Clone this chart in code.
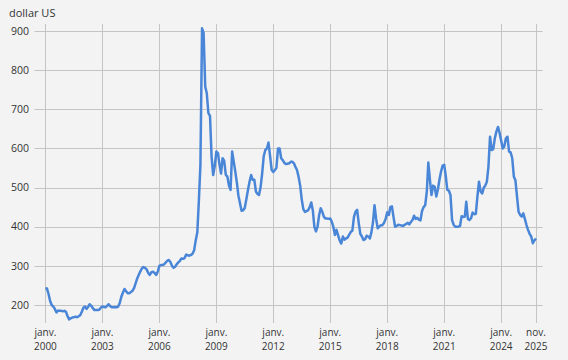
<!DOCTYPE html>
<html>
<head>
<meta charset="utf-8">
<script src="https://cdn.jsdelivr.net/npm/d3@7"></script>
<style>
  body { margin: 0; background: #f3f3f3; }
  svg { display: block; font-family: "Open Sans", "Noto Sans", sans-serif; }
</style>
</head>
<body>
<div id="viz"></div>
<script>
// monthly prices, janv. 2000 -> nov. 2025 (dollar US)
const START_MONTH = "2000-01";
const values2000_2004 = [
  243, 242, 228, 210, 200, 196, 190, 181, 186, 185, 185, 184,
  185, 182, 172, 163, 166, 168, 169, 170, 169, 171, 174, 183,
  193, 196, 190, 195, 202, 198, 192, 187, 187, 187, 188, 193,
  196, 195, 194, 198, 202, 197, 194, 194, 195, 194, 196, 205,
  221, 232, 241, 235, 230, 230, 233, 236, 243, 255, 268, 277
];
const values2005_2009 = [
  286, 294, 297, 295, 291, 282, 277, 284, 285, 282, 277, 285,
  300, 302, 302, 304, 308, 313, 315, 310, 300, 295, 298, 304,
  309, 313, 319, 318, 320, 329, 327, 326, 328, 331, 340, 365,
  386, 470, 560, 907, 895, 758, 741, 690, 683, 579, 532, 555,
  592, 588, 560, 536, 575, 568, 533, 528, 505, 494, 592, 567
];
const values2010_2014 = [
  540, 511, 480, 460, 441, 442, 448, 470, 494, 515, 532, 520,
  520, 490, 484, 481, 500, 536, 580, 596, 600, 615, 580, 545,
  540, 545, 550, 600, 600, 575, 570, 563, 560, 561, 562, 566,
  566, 562, 553, 545, 528, 505, 470, 445, 438, 440, 442, 450,
  462, 440, 400, 388, 400, 430, 447, 438, 425, 421, 421, 420
];
const values2015_2019 = [
  421, 412, 400, 379, 392, 378, 365, 357, 375, 367, 370, 372,
  380, 387, 390, 425, 438, 443, 410, 382, 375, 366, 368, 377,
  375, 370, 385, 410, 455, 420, 396, 400, 404, 404, 410, 420,
  437, 430, 450, 452, 425, 400, 402, 405, 404, 403, 402, 405,
  407, 410, 406, 412, 417, 428, 420, 423, 418, 416, 440, 450
];
const values2020_2025 = [
  455, 490, 564, 519, 481, 505, 502, 477, 495, 520, 541, 556,
  558, 528, 494, 492, 481, 417, 405, 400, 400, 400, 402, 427,
  425, 426, 464, 420, 417, 422, 436, 432, 433, 477, 515, 490,
  485, 500, 505, 515, 553, 630, 596, 598, 626, 643, 655, 640,
  620, 600, 605, 626, 630, 592, 590, 575, 528, 519, 477, 438,
  430, 426, 434, 420, 405, 392, 382, 375, 358, 365, 370
];
const yTicks = [200, 300, 400, 500, 600, 700, 800, 900];
const xTickDates = ["2000-01", "2003-01", "2006-01", "2009-01", "2012-01",
  "2015-01", "2018-01", "2021-01", "2024-01", "2025-11"];
const xTickMonths = ["janv.", "janv.", "janv.", "janv.", "janv.",
  "janv.", "janv.", "janv.", "janv.", "nov."];
const yLabel = "dollar US";

const width = 568,
  height = 360;

const parseMonth = d3.timeParse("%Y-%m");
const VALUES = [].concat(values2000_2004, values2005_2009, values2010_2014,
  values2015_2019, values2020_2025);
const DATES = VALUES.map((v, i) => d3.timeMonth.offset(parseMonth(START_MONTH), i));
const data = VALUES.map((v, i) => ({ date: DATES[i], value: v }));

const svg = d3
  .select("#viz")
  .append("svg")
  .attr("width", width)
  .attr("height", height);

svg.append("rect")
  .attr("width", width)
  .attr("height", height)
  .attr("fill", "#f3f3f3");

const xScale = d3
  .scaleTime()
  .domain([DATES[0], DATES[DATES.length - 1]])
  .range([45.4, 536]);

const yScale = d3
  .scaleLinear()
  .domain([154, 918])
  .range([323, 24]);

const gridLeft = 34.5,
  gridRight = 542.6;

//GRID
svg.append("g")
  .selectAll("line")
  .data(yTicks)
  .enter()
  .append("line")
  .attr("x1", gridLeft)
  .attr("x2", gridRight)
  .attr("y1", d => Math.round(yScale(d)) + 0.5)
  .attr("y2", d => Math.round(yScale(d)) + 0.5)
  .attr("stroke", "#c4c4c4")
  .attr("stroke-width", 1);

const tickDates = xTickDates.map(parseMonth);

svg.append("g")
  .selectAll("line")
  .data(tickDates)
  .enter()
  .append("line")
  .attr("x1", d => Math.round(xScale(d)) + 0.5)
  .attr("x2", d => Math.round(xScale(d)) + 0.5)
  .attr("y1", yScale.range()[1])
  .attr("y2", yScale.range()[0])
  .attr("stroke", "#c4c4c4")
  .attr("stroke-width", 1);

//Y LABELS
svg.append("g")
  .selectAll("text")
  .data(yTicks)
  .enter()
  .append("text")
  .attr("x", 29)
  .attr("y", d => yScale(d))
  .attr("dy", "0.35em")
  .attr("text-anchor", "end")
  .attr("font-size", 10.5)
  .attr("fill", "#333")
  .text(d => d);

svg.append("text")
  .attr("x", 9)
  .attr("y", 17)
  .attr("font-size", 11)
  .attr("fill", "#333")
  .text(yLabel);

//X LABELS (two lines: month, year)
const xLabelG = svg.append("g")
  .attr("font-size", 10)
  .attr("fill", "#333")
  .attr("text-anchor", "middle");

xLabelG.selectAll(".month")
  .data(tickDates)
  .enter()
  .append("text")
  .attr("class", "month")
  .attr("x", d => xScale(d))
  .attr("y", 336)
  .text((d, i) => xTickMonths[i]);

xLabelG.selectAll(".year")
  .data(tickDates)
  .enter()
  .append("text")
  .attr("class", "year")
  .attr("x", d => xScale(d))
  .attr("y", 350)
  .text(d => d3.timeFormat("%Y")(d));

//LINE
const line = d3
  .line()
  .x(d => xScale(d.date))
  .y(d => yScale(d.value));

svg.append("path")
  .datum(data)
  .attr("d", line)
  .attr("fill", "none")
  .attr("stroke", "#4a86d8")
  .attr("stroke-width", 2.5)
  .attr("stroke-linejoin", "round");
</script>
</body>
</html>
